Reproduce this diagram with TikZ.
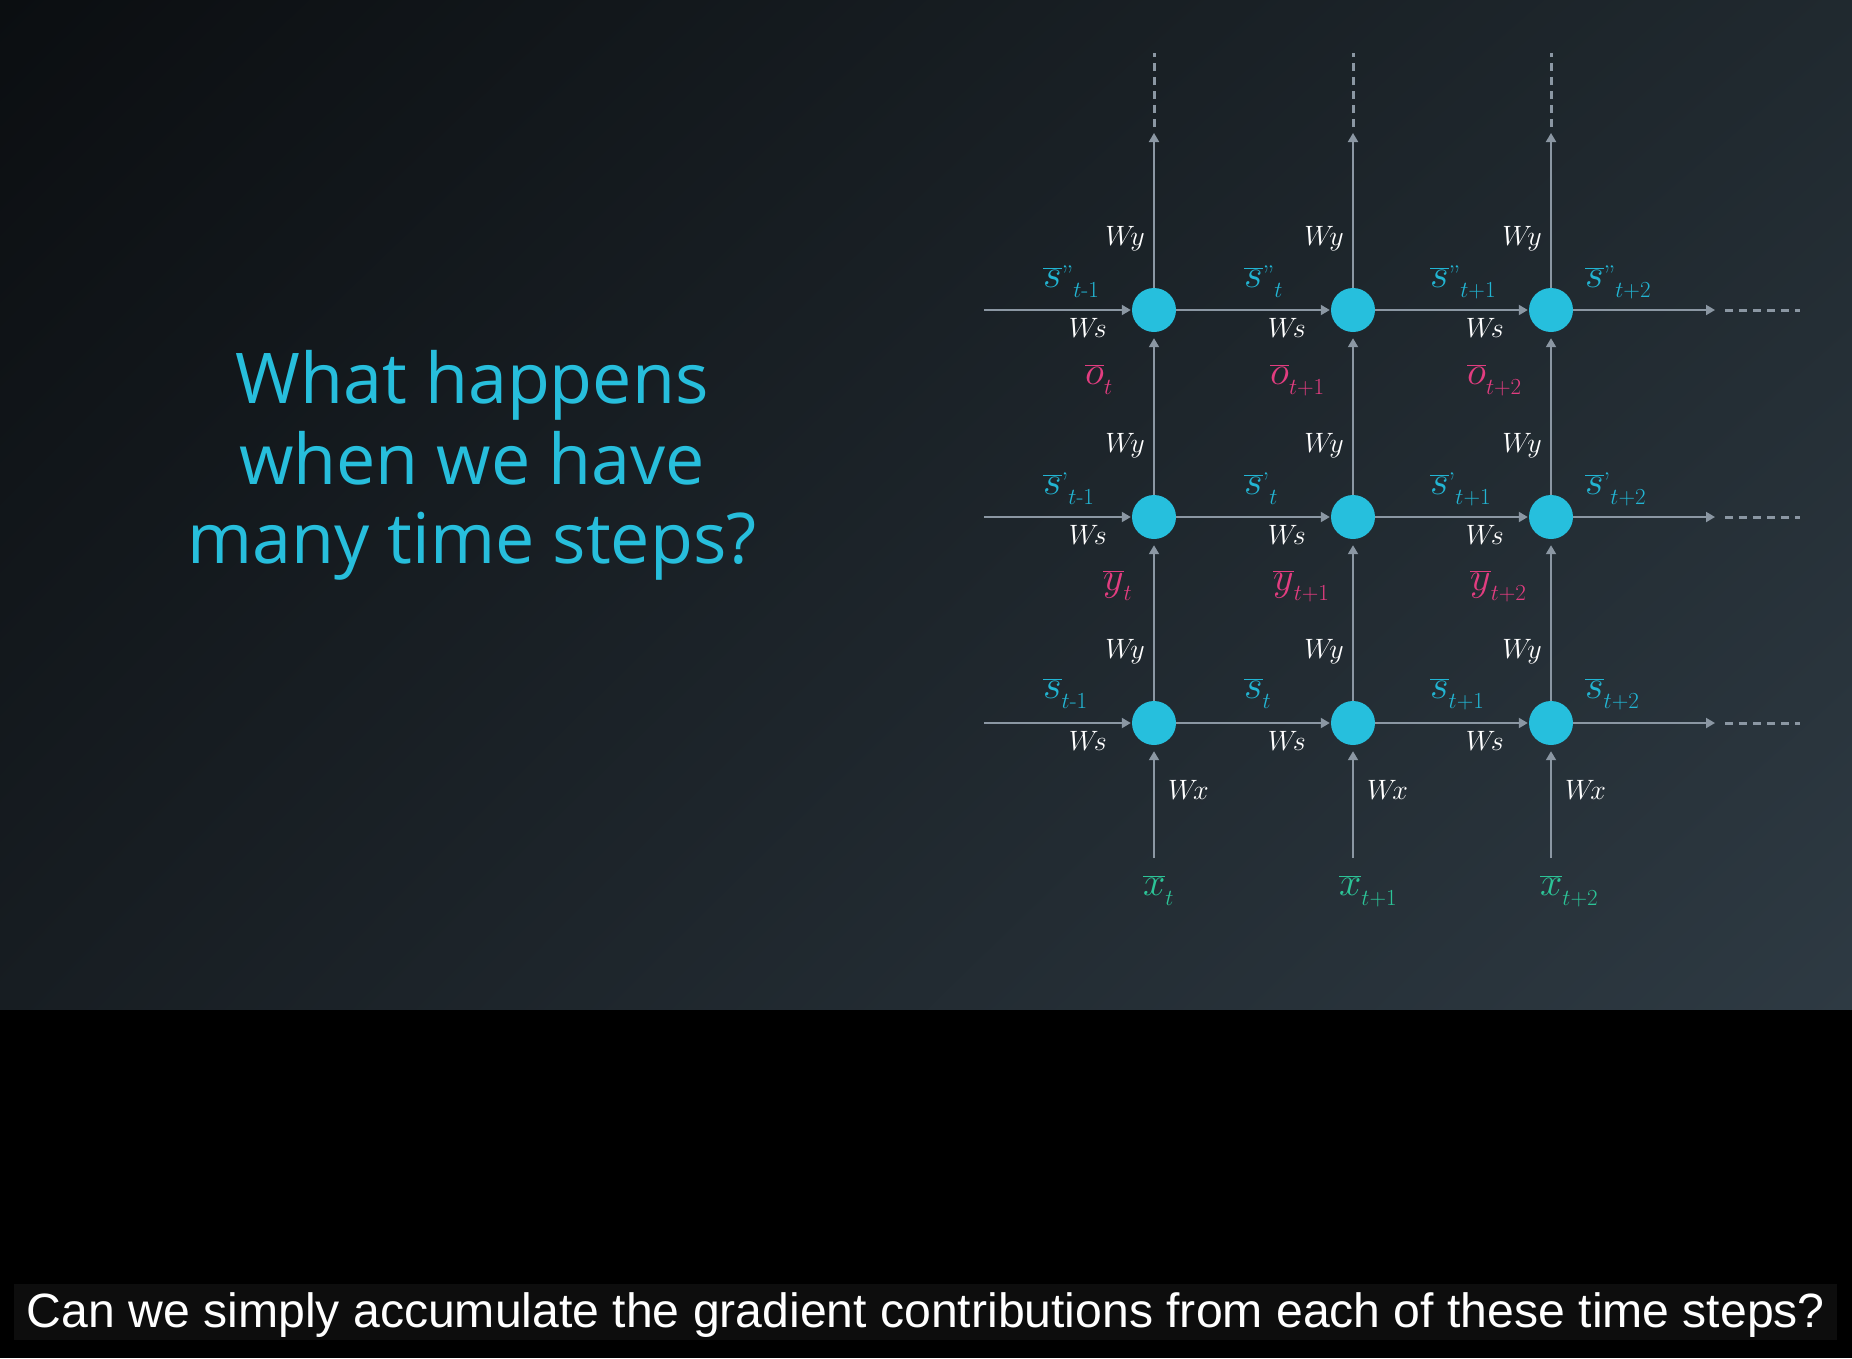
\RequirePackage{fix-cm}
\documentclass[tikz,border=0pt]{standalone}
\usepackage{fontspec}
\usetikzlibrary{arrows.meta,shadings}
\newfontfamily\titlefont{Open Sans}
\newfontfamily\capfont{Liberation Sans}
\definecolor{bgtl}{HTML}{0B0E11}
\definecolor{bgtr}{HTML}{20292F}
\definecolor{bgbl}{HTML}{171D22}
\definecolor{bgbr}{HTML}{2E3A43}
\definecolor{cellcyan}{HTML}{26BFDD}
\definecolor{titlecyan}{HTML}{27BEDC}
\definecolor{labcyan}{HTML}{22B5D3}
\definecolor{labpink}{HTML}{E23D80}
\definecolor{labgreen}{HTML}{2CC497}
\definecolor{wirecol}{HTML}{8B97A3}
\definecolor{capbox}{HTML}{0D0D0D}
% lowered, smaller subscript of the vector labels
\newcommand{\lsub}[1]{\raisebox{-10pt}{\fontsize{23}{23}\selectfont #1}}
% small raised quote marks standing for the layer primes
\newcommand{\pone}{\raisebox{3pt}{\fontsize{27}{27}\selectfont ’}}
\newcommand{\ptwo}{\raisebox{3pt}{\fontsize{27}{27}\selectfont ”}}
\begin{document}
\begin{tikzpicture}[x=1pt,y=-1pt,
  cell/.style={circle,fill=cellcyan,minimum size=44pt,inner sep=0pt},
  wire/.style={draw=wirecol,line width=1.9pt,-{Triangle[length=9pt,width=10pt]}},
  tail/.style={draw=wirecol,line width=3pt,dash pattern=on 8pt off 6pt},
  wlab/.style={inner sep=0pt,text=white,font=\fontsize{28}{32}\selectfont},
  vlab/.style={inner sep=0pt,anchor=base west,font=\fontsize{40}{44}\selectfont},
  slab/.style={vlab,text=labcyan},
  olab/.style={vlab,text=labpink},
  xlab/.style={vlab,text=labgreen},
  titleline/.style={anchor=base,text=titlecyan,inner sep=0pt,font=\titlefont\fontsize{70}{80}\selectfont},
]
\useasboundingbox (0,0) rectangle (1852,1358);
% backdrop: slide gradient above, black strip below
\shade[upper left=bgtl,upper right=bgtr,lower left=bgbl,lower right=bgbr] (0,0) rectangle (1852,1010);
\fill[black] (0,1010) rectangle (1852,1358);

% title
\node[titleline] (title1) at (472,403) {What happens};
\node[titleline] (title2) at (472,484) {when we have};
\node[titleline] (title3) at (472,563) {many time steps?};

% cells: row 1 = top layer, row 3 = input layer
\node[cell] (c11) at (1154,310) {};
\node[cell] (c12) at (1353,310) {};
\node[cell] (c13) at (1551,310) {};
\node[cell] (c21) at (1154,517) {};
\node[cell] (c22) at (1353,517) {};
\node[cell] (c23) at (1551,517) {};
\node[cell] (c31) at (1154,723) {};
\node[cell] (c32) at (1353,723) {};
\node[cell] (c33) at (1551,723) {};

% free ends
\coordinate (in1) at (984,310);
\coordinate (in2) at (984,517);
\coordinate (in3) at (984,723);
\coordinate (out1) at (1715,310);
\coordinate (out2) at (1715,517);
\coordinate (out3) at (1715,723);
\coordinate (top1) at (1154,133);
\coordinate (top2) at (1353,133);
\coordinate (top3) at (1551,133);
\coordinate (x1) at (1154,858);
\coordinate (x2) at (1353,858);
\coordinate (x3) at (1551,858);

% horizontal (state) wires
\foreach \r in {1,2,3}{
  \draw[wire,shorten >=1pt] (in\r) -- (c\r1);
  \draw[wire,shorten >=1pt] (c\r1) -- (c\r2);
  \draw[wire,shorten >=1pt] (c\r2) -- (c\r3);
  \draw[wire] (c\r3) -- (out\r);
  \draw[tail] ([xshift=10pt]out\r) -- ([xshift=85pt]out\r);
}
% vertical (layer) wires
\foreach \c in {1,2,3}{
  \draw[wire,shorten >=6pt] (x\c) -- (c3\c);
  \draw[wire,shorten >=6pt] (c3\c) -- (c2\c);
  \draw[wire,shorten >=6pt] (c2\c) -- (c1\c);
  \draw[wire] (c1\c) -- (top\c);
  \draw[tail] ([yshift=6pt]top\c) -- ([yshift=80pt]top\c);
}

% weight labels
\foreach \r/\y in {1/310,2/517,3/723}{
  \foreach \c/\x in {1/1154,2/1353,3/1551}{
    \node[wlab,anchor=base east] (wy\r\c) at (\x-9,\y-65) {$W\!y$};
    \node[wlab,anchor=base east] (ws\r\c) at (\x-47,\y+27) {$W\!s$};
  }
}
\node[wlab,anchor=base west] (wx1) at (1168,799) {$W\!x$};
\node[wlab,anchor=base west] (wx2) at (1367,799) {$W\!x$};
\node[wlab,anchor=base west] (wx3) at (1565,799) {$W\!x$};

% state labels
\node[slab] (sa0) at (1043,287) {$\overline{s}$\ptwo\lsub{$t$-1}};
\node[slab] (sa1) at (1244,287) {$\overline{s}$\ptwo\lsub{$t$}};
\node[slab] (sa2) at (1430,287) {$\overline{s}$\ptwo\lsub{$t$+1}};
\node[slab] (sa3) at (1585,287) {$\overline{s}$\ptwo\lsub{$t$+2}};
\node[slab] (sb0) at (1043,494) {$\overline{s}$\pone\lsub{$t$-1}};
\node[slab] (sb1) at (1244,494) {$\overline{s}$\pone\lsub{$t$}};
\node[slab] (sb2) at (1430,494) {$\overline{s}$\pone\lsub{$t$+1}};
\node[slab] (sb3) at (1585,494) {$\overline{s}$\pone\lsub{$t$+2}};
\node[slab] (sc0) at (1043,698) {$\overline{s}$\lsub{$t$-1}};
\node[slab] (sc1) at (1244,698) {$\overline{s}$\lsub{$t$}};
\node[slab] (sc2) at (1430,698) {$\overline{s}$\lsub{$t$+1}};
\node[slab] (sc3) at (1585,698) {$\overline{s}$\lsub{$t$+2}};

% outputs and inputs
\node[olab] (o1) at (1085,384) {$\overline{o}$\lsub{$t$}};
\node[olab] (o2) at (1270,384) {$\overline{o}$\lsub{$t$+1}};
\node[olab] (o3) at (1467,384) {$\overline{o}$\lsub{$t$+2}};
\node[olab] (y1) at (1103,590) {$\overline{y}$\lsub{$t$}};
\node[olab] (y2) at (1273,590) {$\overline{y}$\lsub{$t$+1}};
\node[olab] (y3) at (1470,590) {$\overline{y}$\lsub{$t$+2}};
\node[xlab] (xl1) at (1143,895) {$\overline{x}$\lsub{$t$}};
\node[xlab] (xl2) at (1339,895) {$\overline{x}$\lsub{$t$+1}};
\node[xlab] (xl3) at (1540,895) {$\overline{x}$\lsub{$t$+2}};

% caption bar
\fill[capbox] (14,1284) rectangle (1837,1340);
\node[anchor=base,inner sep=0pt,text=white] (caption) at (926,1327)
  {\resizebox{1798pt}{!}{\capfont\fontsize{46}{50}\selectfont Can we simply accumulate the gradient contributions from each of these time steps?}};
\end{tikzpicture}
\end{document}
